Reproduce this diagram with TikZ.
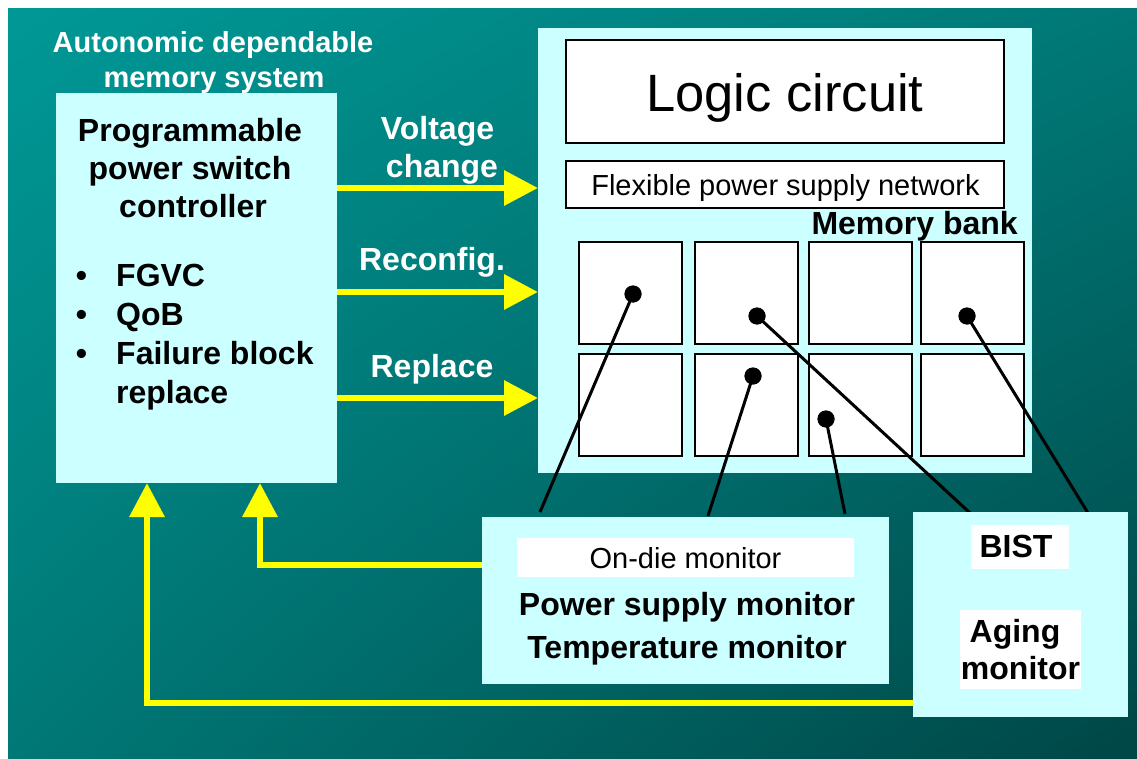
\documentclass[tikz,border=0pt]{standalone}
\usepackage{fontspec}
\setmainfont{Liberation Sans}
\usetikzlibrary{arrows.meta,shadings}
\definecolor{tealA}{RGB}{0,152,150}
\definecolor{tealB}{RGB}{0,120,118}
\definecolor{tealC}{RGB}{0,70,70}
\definecolor{boxcyan}{RGB}{204,255,255}
\definecolor{yel}{RGB}{255,255,0}
\tikzset{
  boxc/.style={fill=boxcyan, draw=none, inner sep=0pt, outer sep=0pt},
  wbox/.style={fill=white, draw=none, inner sep=0pt, outer sep=0pt},
  framed/.style={fill=white, draw=black, line width=2pt, inner sep=0pt, outer sep=0pt},
  cell/.style={framed, minimum width=103pt, minimum height=102pt},
  dot/.style={circle, fill=black, inner sep=0pt, minimum size=17pt},
  wire/.style={draw=black, line width=3pt},
  yarrow/.style={draw=yel, line width=6.5pt, -{Triangle[length=34pt,width=34pt]}},
  wt/.style={text=white, font=\fontsize{29}{33}\selectfont\bfseries, anchor=base, inner sep=0pt},
  wl/.style={text=white, font=\fontsize{32}{38}\selectfont\bfseries, anchor=base, inner sep=0pt},
  bt/.style={text=black, font=\fontsize{32}{38}\selectfont\bfseries, anchor=base, inner sep=0pt},
  rt/.style={text=black, anchor=base, inner sep=0pt},
}
\begin{document}
\begin{tikzpicture}[x=1pt,y=-1pt]
\useasboundingbox (0,0) rectangle (1137,759);
\shade[upper left=tealA, upper right=tealB, lower left=tealB, lower right=tealC] (8,9) rectangle (1137,759);

% title
\node[wt] (t1) at (213,53) {Autonomic dependable};
\node[wt] (t2) at (214,88) {memory system};

% chip
\node[boxc, minimum width=494pt, minimum height=445pt] (chip) at (785,250.5) {};
\node[framed, minimum width=438pt, minimum height=103pt] (logic) at (785,91.5) {};
\node[rt, font=\fontsize{52.5}{60}\selectfont] (logict) at (785,112) {Logic circuit};
\node[framed, minimum width=438pt, minimum height=47pt] (flex) at (785,184.5) {};
\node[rt, font=\fontsize{29}{33}\selectfont] (flext) at (785.5,196) {Flexible power supply network};
\node[bt, anchor=base east] (membank) at (1018,235) {Memory bank};

\node[cell] (c11) at (630.5,293) {};
\node[cell] (c12) at (746.5,293) {};
\node[cell] (c13) at (860.5,293) {};
\node[cell] (c14) at (972.5,293) {};
\node[cell] (c21) at (630.5,405) {};
\node[cell] (c22) at (746.5,405) {};
\node[cell] (c23) at (860.5,405) {};
\node[cell] (c24) at (972.5,405) {};

% controller
\node[boxc, minimum width=281pt, minimum height=390pt] (ctrl) at (196.5,288) {};
\node[bt] (p1) at (190,142) {Programmable};
\node[bt] (p2) at (190,180) {power switch};
\node[bt] (p3) at (193,218) {controller};
\node[bt] (b1) at (81.5,287) {•};
\node[bt] (b2) at (81.5,325.7) {•};
\node[bt] (b3) at (81.5,364.4) {•};
\node[bt, anchor=base west] (l1) at (116,287) {FGVC};
\node[bt, anchor=base west] (l2) at (116,325.7) {QoB};
\node[bt, anchor=base west] (l3) at (116,364.4) {Failure block};
\node[bt, anchor=base west] (l4) at (116,403) {replace};

% dots and wires
\node[dot] (d1) at (633,294) {};
\node[dot] (d2) at (757,316) {};
\node[dot] (d3) at (967,316) {};
\node[dot] (d4) at (753,376) {};
\node[dot] (d5) at (826,419) {};
\coordinate (m1) at (540,512);
\coordinate (m2) at (708,516);
\coordinate (m3) at (845,514);
\coordinate (s1) at (970,513);
\coordinate (s2) at (1088,513);
\draw[wire] (d1.center) -- (m1);
\draw[wire] (d2.center) -- (s1);
\draw[wire] (d3.center) -- (s2);
\draw[wire] (d4.center) -- (m2);
\draw[wire] (d5.center) -- (m3);
\node[dot] at (d1) {};
\node[dot] at (d2) {};
\node[dot] at (d3) {};
\node[dot] at (d4) {};
\node[dot] at (d5) {};

% monitor box
\node[boxc, minimum width=407pt, minimum height=167pt] (mon) at (685.5,600.5) {};
\node[wbox, minimum width=337pt, minimum height=39pt] (ondie) at (685.5,557.5) {};
\node[rt, font=\fontsize{29}{33}\selectfont] (ondiet) at (685.5,568) {On-die monitor};
\node[bt] (psm) at (687,615) {Power supply monitor};
\node[bt] (tm) at (687,658) {Temperature monitor};

% BIST box
\node[boxc, minimum width=215pt, minimum height=205pt] (bist) at (1020.5,614.5) {};
\node[wbox, minimum width=98pt, minimum height=44pt] (bistl) at (1020,547) {};
\node[bt] (bistt) at (1016,557) {BIST};
\node[wbox, minimum width=121pt, minimum height=79pt] (agel) at (1020.5,649.5) {};
\node[bt] (aget1) at (1015,642) {Aging};
\node[bt] (aget2) at (1020.5,679) {monitor};

% yellow arrows
\coordinate (v1) at (0,188);
\coordinate (v2) at (0,292);
\coordinate (v3) at (0,398);
\draw[yarrow] (ctrl.east |- v1) -- (chip.west |- v1);
\draw[yarrow] (ctrl.east |- v2) -- (chip.west |- v2);
\draw[yarrow] (ctrl.east |- v3) -- (chip.west |- v3);
\node[wl] (vt1) at (437.5,140) {Voltage};
\node[wl] (vt2) at (442,178) {change};
\node[wl] (rc) at (432,270) {Reconfig.};
\node[wl] (rp) at (432,377) {Replace};

\coordinate (h1) at (147,703);
\coordinate (h2) at (260,565);
\draw[yarrow] (bist.west |- h1) -- (h1) -- (ctrl.south -| h1);
\draw[yarrow] (mon.west |- h2) -- (h2) -- (ctrl.south -| h2);
\end{tikzpicture}
\end{document}
